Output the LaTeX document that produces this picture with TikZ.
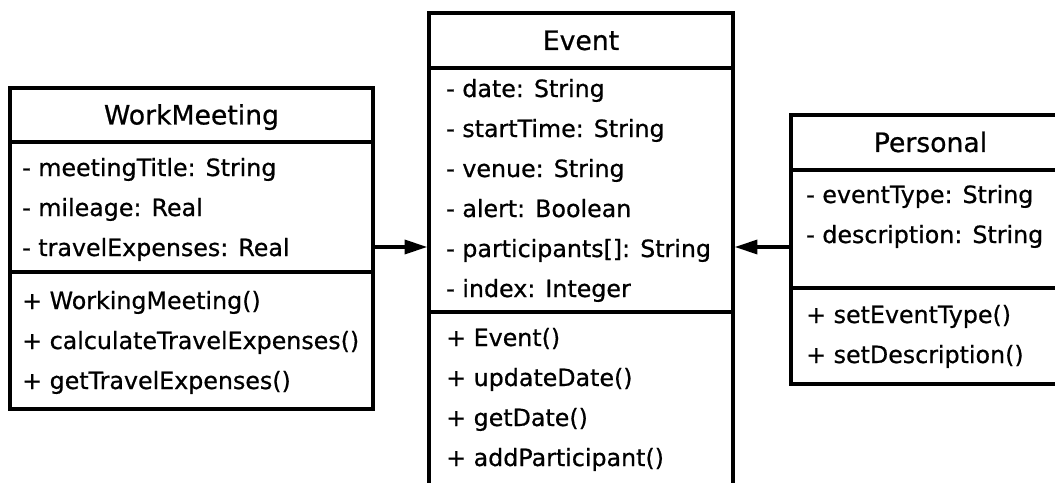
\documentclass[tikz,border=0pt]{standalone}
\usepackage{fontspec}
\setmainfont{DejaVu Sans}[FakeBold=0.7]
\usetikzlibrary{fit,positioning,arrows.meta}
\tikzset{
  class part/.style={draw=black, line width=2.6pt, inner sep=0pt},
  class title/.style={anchor=base, inner sep=0pt, yshift=-7.1pt, font=\fontsize{20}{24}\selectfont},
  member/.style={anchor=base west, inner sep=0pt, font=\fontsize{17.8}{22}\selectfont},
  inherits/.style={line width=2.6pt, arrows={-Triangle[length=17pt, width=10.5pt]}}
}
\begin{document}
\begin{tikzpicture}[x=0.75pt, y=-0.75pt]
  \useasboundingbox (0,0) rectangle (1055,482);

  % WorkMeeting
  \node[class part, fit={(10,88) (373,142)}] (wm name) {};
  \node[class part, fit={(10,142) (373,272)}] (wm attrs) {};
  \node[class part, fit={(10,272) (373,409)}] (wm ops) {};
  \node[class title] (wm title) at (wm name.center) {WorkMeeting};
  \foreach \txt [count=\i] in {{- meetingTitle: String}, {- mileage: Real}, {- travelExpenses: Real}}
    \node[member] (wm attr \i) at (22,{136+40*\i}) {\txt};
  \foreach \txt [count=\i] in {{+ WorkingMeeting()}, {+ calculateTravelExpenses()}, {+ getTravelExpenses()}}
    \node[member] (wm op \i) at (22,{269+40*\i}) {\txt};

  % Event
  \node[class part, fit={(429,13) (733,68)}] (ev name) {};
  \node[class part, fit={(429,68) (733,312)}] (ev attrs) {};
  \node[class part, fit={(429,312) (733,495)}] (ev ops) {};
  \node[class title] (ev title) at (ev name.center) {Event};
  \foreach \txt [count=\i] in {{- date: String}, {- startTime: String}, {- venue: String}, {- alert: Boolean}, {- participants[]: String}, {- index: Integer}}
    \node[member] (ev attr \i) at (446,{57+40*\i}) {\txt};
  \foreach \txt [count=\i] in {{+ Event()}, {+ updateDate()}, {+ getDate()}, {+ addParticipant()}}
    \node[member] (ev op \i) at (446,{306+40*\i}) {\txt};

  % Personal
  \node[class part, fit={(791,115) (1070,170)}] (pe name) {};
  \node[class part, fit={(791,170) (1070,288)}] (pe attrs) {};
  \node[class part, fit={(791,288) (1070,384)}] (pe ops) {};
  \node[class title] (pe title) at (pe name.center) {Personal};
  \foreach \txt [count=\i] in {{- eventType: String}, {- description: String}}
    \node[member] (pe attr \i) at (806,{163+40*\i}) {\txt};
  \foreach \txt [count=\i] in {{+ setEventType()}, {+ setDescription()}}
    \node[member] (pe op \i) at (806,{283+40*\i}) {\txt};

  \coordinate (link y) at (0,247);
  \draw[inherits] (wm attrs.east |- link y) -- (ev attrs.west |- link y);
  \draw[inherits] (pe attrs.west |- link y) -- (ev attrs.east |- link y);
\end{tikzpicture}
\end{document}
